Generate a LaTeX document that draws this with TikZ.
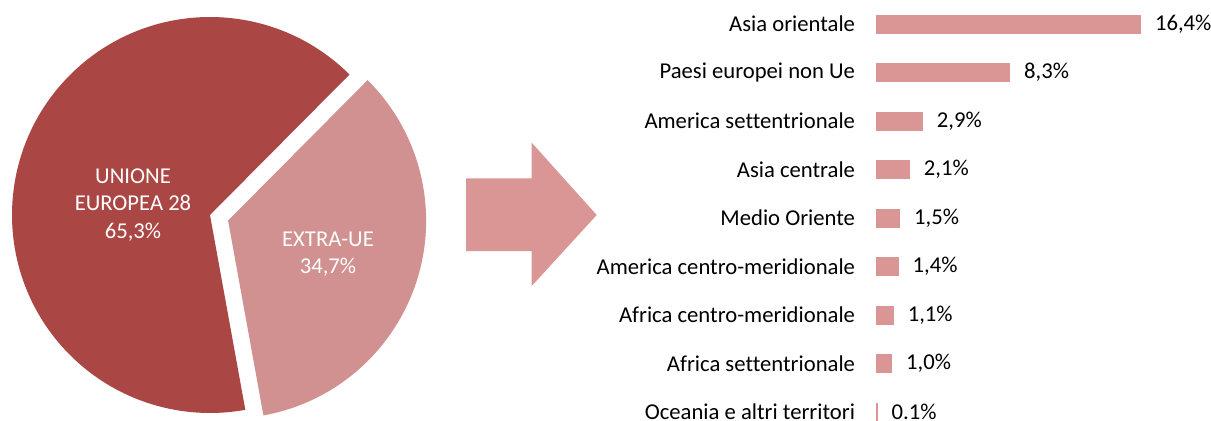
\documentclass[tikz,border=0pt]{standalone}
\usepackage{fontspec}
\setmainfont{Carlito}[Ligatures=NoCommon]
\definecolor{uedark}{HTML}{AA4745}
\definecolor{extrapie}{HTML}{D09190}
\definecolor{barfill}{HTML}{D99694}
\begin{document}
\begin{tikzpicture}[x=0.75pt,y=0.75pt,
  font=\fontsize{17}{20.7}\selectfont,
  lbl/.style={inner sep=0pt, outer sep=0pt, anchor=east},
  val/.style={inner sep=0pt, outer sep=0pt, anchor=west},
  barbox/.style={fill=barfill, draw=none, inner sep=0pt, outer sep=0pt, minimum height=14.25pt, anchor=west},
  pielbl/.style={text=white, align=center, inner sep=0pt}]
\useasboundingbox (0,0) rectangle (1211,-421);
\fill[white] (0,0) rectangle (1211,-421);
% pie
\fill[uedark] (210,-215) -- ++(45.2:148.5pt) arc[start angle=45.2, end angle=280.28, radius=148.5pt] -- cycle;
\fill[extrapie] (228.1,-220.6) -- ++(-79.72:148.5pt) arc[start angle=-79.72, end angle=45.2, radius=148.5pt] -- cycle;
\node[pielbl] (ue) at (133,-205) {UNIONE\\EUROPEA 28\\65,3\%};
\node[pielbl] (extra) at (328,-254) {EXTRA-UE\\34,7\%};
% arrow
\fill[barfill] (466,-178.3) -- (531.7,-178.3) -- (531.7,-142.7) -- (596.7,-215) -- (531.7,-286) -- (531.7,-251) -- (466,-251) -- cycle;
% bars
\foreach \i/\name/\v/\t in {0/Asia orientale/16.4/{16,4\%},
  1/Paesi europei non Ue/8.3/{8,3\%},
  2/America settentrionale/2.9/{2,9\%},
  3/Asia centrale/2.1/{2,1\%},
  4/Medio Oriente/1.5/{1,5\%},
  5/America centro-meridionale/1.4/{1,4\%},
  6/Africa centro-meridionale/1.1/{1,1\%},
  7/Africa settentrionale/1.0/{1,0\%},
  8/Oceania e altri territori/0.1/{0.1\%}}{
  \pgfmathsetmacro{\yc}{-(24+48.5*\i)}
  \pgfmathsetmacro{\w}{\v*16.16*0.75}
  \node[lbl] (lab\i) at (855,\yc) {\name};
  \node[barbox, minimum width=\w pt] (bar\i) at (876,\yc) {};
  \node[val] (val\i) at ([xshift=10.5pt]bar\i.east) {\t};
}
\end{tikzpicture}
\end{document}
